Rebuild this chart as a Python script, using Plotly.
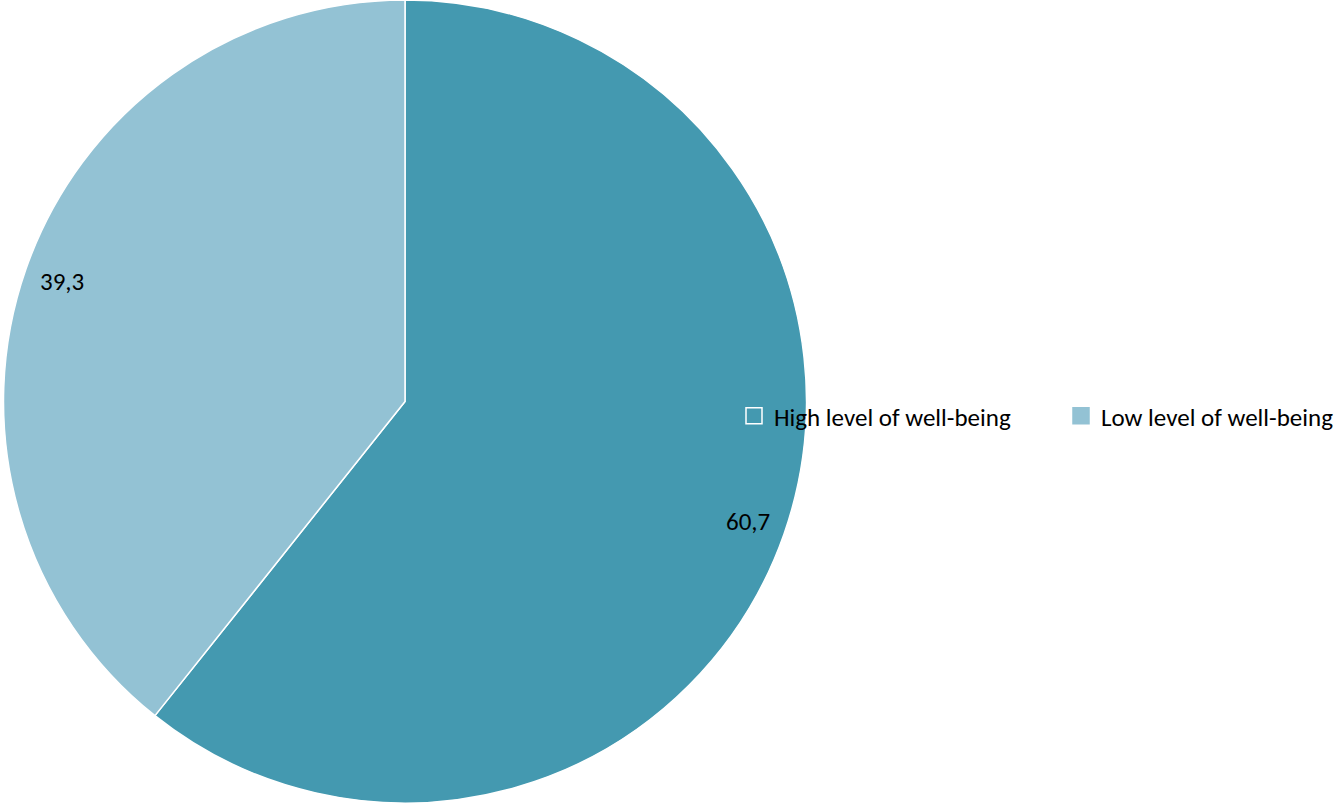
import math
import plotly.graph_objects as go

categories = ["High level of well-being", "Low level of well-being"]
values = [60.7, 39.3]
slice_colors = ["#4499B0", "#93C2D4"]

W, H = 1336, 803
font_family = "Carlito, Lato, sans-serif"

fig = go.Figure()

pie_x = [0.0, 810 / W]
fig.add_trace(go.Pie(
    labels=categories,
    values=values,
    sort=False,
    direction="clockwise",
    rotation=0,
    marker=dict(colors=slice_colors, line=dict(color="white", width=1.5)),
    textinfo="none",
    hoverinfo="label+value",
    showlegend=False,
    domain=dict(x=pie_x, y=[0, 1]),
))

# value labels placed near the rim, at each slice's mid-angle
cx = (pie_x[0] + pie_x[1]) / 2 * W
cy = H / 2
R = min((pie_x[1] - pie_x[0]) * W, H) / 2
total = sum(values)
cum = 0.0
for v in values:
    mid = (cum + v / 2) / total * 2 * math.pi
    cum += v
    px = cx + 0.905 * R * math.sin(mid)
    py = cy - 0.905 * R * math.cos(mid)
    fig.add_annotation(
        x=px / W, y=1 - py / H, xref="paper", yref="paper",
        xanchor="center", yanchor="middle",
        text=f"{v:.1f}".replace(".", ","), showarrow=False,
        font=dict(family=font_family, size=25, color="#000000"),
    )

# legend entries
legend_symbols = ["square-open", "square"]
legend_colors = ["white", slice_colors[1]]
for name, sym, col in zip(categories, legend_symbols, legend_colors):
    fig.add_trace(go.Scatter(
        x=[None], y=[None], mode="markers", name=name,
        marker=dict(symbol=sym, size=16, color=col,
                    line=dict(color=col, width=1.5)),
    ))

fig.update_layout(
    width=W, height=H,
    margin=dict(l=0, r=0, t=0, b=0, autoexpand=False),
    paper_bgcolor="white", plot_bgcolor="rgba(0,0,0,0)",
    xaxis=dict(visible=False), yaxis=dict(visible=False),
    legend=dict(
        orientation="h", x=734 / W, y=1 - 416 / H,
        xanchor="left", yanchor="middle",
        bgcolor="rgba(0,0,0,0)",
        font=dict(family=font_family, size=25, color="#000000"),
        entrywidth=282, entrywidthmode="pixels",
        itemsizing="trace",
    ),
)

fig.write_html("out.html")
